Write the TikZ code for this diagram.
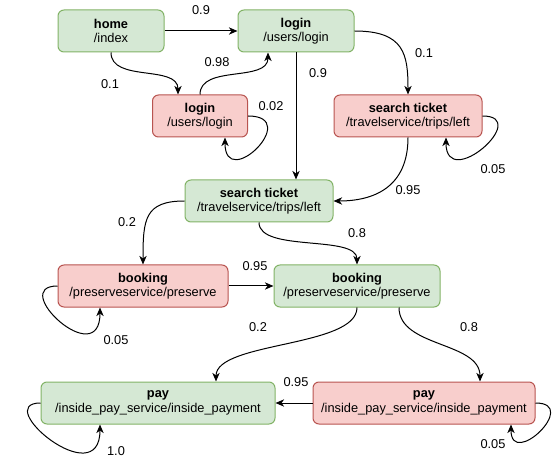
\documentclass[tikz,border=0pt]{standalone}
\usepackage{fontspec}
\setmainfont{Liberation Sans}
\usetikzlibrary{arrows.meta,calc}
\definecolor{okfill}{HTML}{D5E8D4}
\definecolor{okline}{HTML}{82B366}
\definecolor{errfill}{HTML}{F8CECC}
\definecolor{errline}{HTML}{B85450}
\tikzset{
  page/.style={rounded corners=4.5pt, line width=0.75pt, minimum height=31.5pt,
    inner sep=0pt, align=center, font=\fontsize{9.6}{10.8}\selectfont},
  okpage/.style={page, fill=okfill, draw=okline},
  errpage/.style={page, fill=errfill, draw=errline},
  hop/.style={line width=0.75pt, -{Stealth[length=6.5pt,width=5.5pt,inset=2pt]}},
  prob/.style={font=\fontsize{9.6}{10.8}\selectfont}
}
\begin{document}
\begin{tikzpicture}[x=0.75pt,y=-0.75pt,every node/.style={text=black}]
    \useasboundingbox (0,0) rectangle (556,459);
    % pages
    \node[okpage, minimum width=79.5pt] (home) at (111,31) {\textbf{home}\\/index};
    \node[okpage, minimum width=87pt] (lgn) at (296,31) {\textbf{login}\\/users/login};
    \node[errpage, minimum width=71.25pt] (lgnerr) at (200,116) {\textbf{login}\\/users/login};
    \node[errpage, minimum width=111pt] (srcherr) at (408,116) {\textbf{search ticket}\\/travelservice/trips/left};
    \node[okpage, minimum width=111pt] (srch) at (259,201) {\textbf{search ticket}\\/travelservice/trips/left};
    \node[errpage, minimum width=127.5pt] (bkgerr) at (143,286) {\textbf{booking}\\/preserveservice/preserve};
    \node[okpage, minimum width=124.5pt] (bkg) at (357,286) {\textbf{booking}\\/preserveservice/preserve};
    \node[okpage, minimum width=175.5pt] (pay) at (158,403) {\textbf{pay}\\/inside\_pay\_service/inside\_payment};
    \node[errpage, minimum width=166.5pt] (payerr) at (424,403) {\textbf{pay}\\/inside\_pay\_service/inside\_payment};
    % transitions
    \draw[hop] (home.east) -- (lgn.west);
    \draw[hop] (home.south) .. controls +(0,30) and +(0,-30) .. ($(lgnerr.north)+(-22,0)$);
    \draw[hop] (lgnerr.north) .. controls +(0,-30) and +(0,30) .. ($(lgn.south)+(-28,0)$);
    \draw[hop] (lgnerr.east) .. controls +(55,0) and +(0,55) .. ($(lgnerr.south)+(25,0)$);
    \draw[hop] (lgn.east) .. controls +(50,0) and +(0,-40) .. (srcherr.north);
    \draw[hop] (lgn.south) -- (lgn.south |- srch.north);
    \draw[hop] (srcherr.south) .. controls +(0,50) and +(40,0) .. (srch.east);
    \draw[hop] (srcherr.east) .. controls +(50,0) and +(0,55) .. ($(srcherr.south)+(38,0)$);
    \draw[hop] (srch.west) .. controls +(-40,0) and +(0,-45) .. (bkgerr.north);
    \draw[hop] (srch.south) .. controls +(0,30) and +(0,-30) .. (bkg.north);
    \draw[hop] (bkgerr.east) -- (bkg.west);
    \draw[hop] (bkgerr.west) .. controls +(-50,0) and +(0,65) .. ($(bkgerr.south)+(-43,0)$);
    \draw[hop] (bkg.south) .. controls +(0,40) and +(0,-40) .. ($(pay.north)+(58,0)$);
    \draw[hop] ($(bkg.south)+(42,0)$) .. controls +(0,40) and +(0,-40) .. ($(payerr.north)+(56,0)$);
    \draw[hop] (payerr.west) -- (pay.east);
    \draw[hop] (pay.west) .. controls +(-50,0) and +(0,70) .. ($(pay.south)+(-58,0)$);
    \draw[hop] (payerr.east) .. controls +(45,0) and +(0,45) .. ($(payerr.south)+(87,0)$);
    % probabilities
    \node[prob] (p1) at (201,10) {0.9};
    \node[prob] (p2) at (110,84) {0.1};
    \node[prob] (p3) at (217,62) {0.98};
    \node[prob] (p4) at (271,106) {0.02};
    \node[prob] (p5) at (424,53) {0.1};
    \node[prob] (p6) at (318,73) {0.9};
    \node[prob] (p7) at (408,190) {0.95};
    \node[prob] (p8) at (493,169) {0.05};
    \node[prob] (p9) at (127,222) {0.2};
    \node[prob] (p10) at (357,233) {0.8};
    \node[prob] (p11) at (255,266) {0.95};
    \node[prob] (p12) at (116,340) {0.05};
    \node[prob] (p13) at (258,327) {0.2};
    \node[prob] (p14) at (469,327) {0.8};
    \node[prob] (p15) at (296,382) {0.95};
    \node[prob] (p16) at (116,451) {1.0};
    \node[prob] (p17) at (493,444) {0.05};
\end{tikzpicture}
\end{document}
